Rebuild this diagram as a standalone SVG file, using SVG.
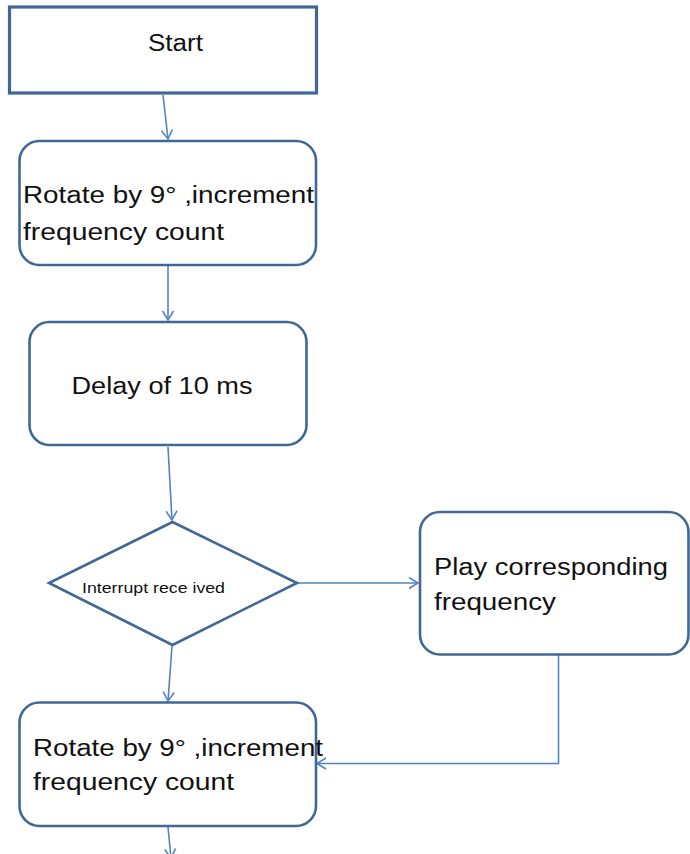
<svg xmlns="http://www.w3.org/2000/svg" width="690" height="854" viewBox="0 0 690 854">
<style>
.box{fill:#ffffff;stroke:#3f6897;stroke-width:2.6}
.start{fill:#ffffff;stroke:#3f6897;stroke-width:3.2}
.conn{fill:none;stroke:#5584c0;stroke-width:1.6}
.t{font-family:"Liberation Sans",Arial,sans-serif;font-size:23px;fill:#111111}
.s{font-family:"Liberation Sans",Arial,sans-serif;font-size:15px;fill:#111111}
</style>
<defs>
<marker id="arr" markerUnits="userSpaceOnUse" markerWidth="14" markerHeight="14" viewBox="0 0 14 14" refX="12" refY="7" orient="auto">
<path d="M3,1.5 L12,7 L3,12.5" fill="none" stroke="#5584c0" stroke-width="1.6"/>
</marker>
</defs>
<rect width="690" height="854" fill="#ffffff"/>
<g id="connectors">
<path class="conn" d="M163,95 L168,139" marker-end="url(#arr)"/>
<path class="conn" d="M168,266 L168,320" marker-end="url(#arr)"/>
<path class="conn" d="M168,447 L172,520" marker-end="url(#arr)"/>
<path class="conn" d="M297,583 L418,583" marker-end="url(#arr)"/>
<path class="conn" d="M172,646 L168,701" marker-end="url(#arr)"/>
<path class="conn" d="M558.5,655 L558.5,763.5 L317,763.5" marker-end="url(#arr)"/>
<path class="conn" d="M168,827 L171,858" marker-end="url(#arr)"/>
</g>
<g id="start">
<rect class="start" x="9.5" y="7" width="307" height="86"/>
<text class="t" x="148" y="51" textLength="55" lengthAdjust="spacingAndGlyphs">Start</text>
</g>
<g id="rotate1">
<rect class="box" x="19.5" y="141" width="296.5" height="124" rx="20"/>
<text class="t" x="23" y="203" textLength="291" lengthAdjust="spacingAndGlyphs">Rotate by 9° ,increment</text>
<text class="t" x="23" y="240" textLength="201" lengthAdjust="spacingAndGlyphs">frequency count</text>
</g>
<g id="delay">
<rect class="box" x="29.5" y="322" width="277" height="123" rx="20"/>
<text class="t" x="71.5" y="394" textLength="181" lengthAdjust="spacingAndGlyphs">Delay of 10 ms</text>
</g>
<g id="decision">
<polygon class="box" points="172.5,522 297,583 172.5,645 49,583"/>
<text class="s" x="82" y="593" textLength="143" lengthAdjust="spacingAndGlyphs">Interrupt rece ived</text>
</g>
<g id="play">
<rect class="box" x="420" y="512" width="268.5" height="142.5" rx="20"/>
<text class="t" x="434" y="575" textLength="234" lengthAdjust="spacingAndGlyphs">Play corresponding</text>
<text class="t" x="434" y="610" textLength="122" lengthAdjust="spacingAndGlyphs">frequency</text>
</g>
<g id="rotate2">
<rect class="box" x="19.5" y="702.5" width="296.5" height="123.5" rx="20"/>
<text class="t" x="33" y="756" textLength="290" lengthAdjust="spacingAndGlyphs">Rotate by 9° ,increment</text>
<text class="t" x="33" y="790" textLength="201" lengthAdjust="spacingAndGlyphs">frequency count</text>
</g>
</svg>
